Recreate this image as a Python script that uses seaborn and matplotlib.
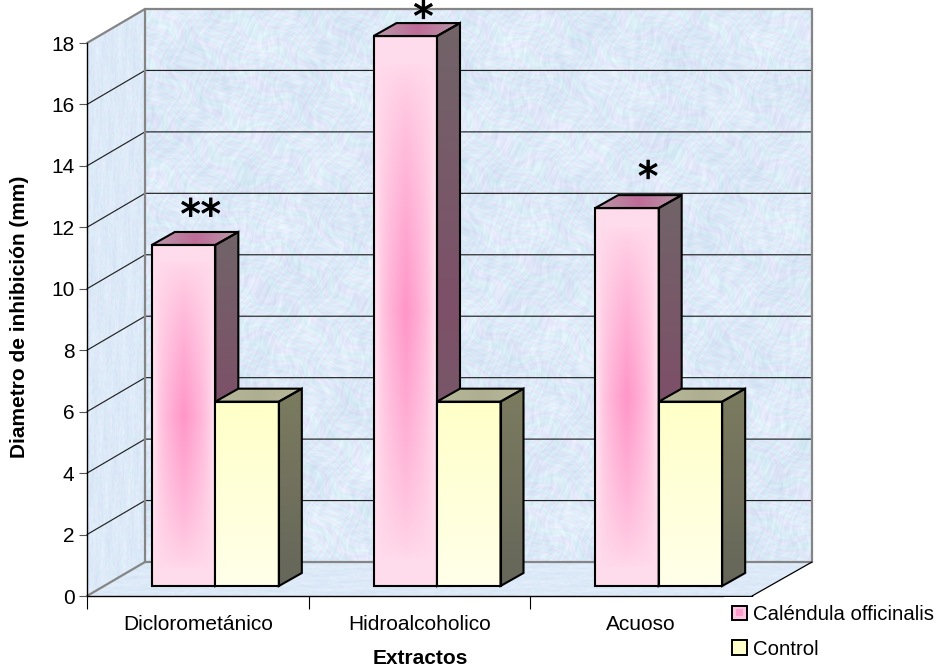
import numpy as np
import pandas as pd
import matplotlib
matplotlib.use("Agg")
import matplotlib.pyplot as plt
import matplotlib.patheffects as pe
import seaborn as sns
from matplotlib.patches import Polygon, Rectangle
from matplotlib.legend_handler import HandlerBase
from matplotlib.colors import to_rgb

# ---- data ----
categories = ["Diclorometánico", "Hidroalcoholico", "Acuoso"]
calendula = [11.1, 17.9, 12.3]
control = [6.0, 6.0, 6.0]
marks = ["**", "*", "*"]
series_names = ["Caléndula officinalis", "Control"]
y_ticks = [0, 2, 4, 6, 8, 10, 12, 14, 16, 18]

# ---- style ----
W, H = 940, 668
PX_X = 665 / 3.0      # pixels per category
PX_Y = 553 / 18.0     # pixels per y unit
WALL_DX, WALL_DY = 58 / PX_X, 34 / PX_Y
WALL_DX_R = 60 / PX_X
FLOOR_DX, FLOOR_DY = 17.5 / PX_X, 10 / PX_Y
BAR_DX, BAR_DY = 23 / PX_X, 13 / PX_Y
GROUP_W = 127 / PX_X

sns.set_theme(style="white")
plt.rcParams["font.family"] = ["Liberation Sans", "DejaVu Sans"]
plt.rcParams["text.color"] = "black"
FS = 15

fig = plt.figure(figsize=(W / 100, H / 100), dpi=100, facecolor="white")
ax = fig.add_axes([87 / W, 1 - 596 / H, 665 / W, 553 / H])
ax.set_facecolor("none")

df = pd.DataFrame({
    "Extractos": categories * 2,
    "Diametro": calendula + control,
    "Serie": [series_names[0]] * 3 + [series_names[1]] * 3,
})
sns.barplot(data=df, x="Extractos", y="Diametro", hue="Serie", hue_order=series_names,
            palette=["#ffb6d9", "#ffffd8"], width=GROUP_W, gap=0, legend=False,
            saturation=1, ax=ax)
x0, x1, y0, y1 = -0.5, 2.5, 0, 18


def lerp(a, b, t):
    a, b = np.array(to_rgb(a)), np.array(to_rgb(b))
    return a + (b - a) * t[..., None]


def paint(arr, pts, z):
    xs, ys = zip(*pts)
    im = ax.imshow(arr, extent=(min(xs), max(xs), min(ys), max(ys)), origin="upper",
                   aspect="auto", interpolation="bilinear", zorder=z)
    im.set_clip_path(Polygon(pts, closed=True, transform=ax.transData))
    im.set_clip_box(fig.bbox)
    return im


def outline(pts, z, color="black", lw=1.5):
    ax.add_patch(Polygon(pts, closed=True, fill=False, edgecolor=color, lw=lw, zorder=z,
                         clip_on=False, joinstyle="miter"))


# ---- textured walls (smooth, deterministic mottling) ----
yy, xx = np.mgrid[0:620, 0:760].astype(float)
warp_x = xx + 9 * np.sin(0.037 * yy + 0.4) + 6 * np.sin(0.083 * yy + 0.09 * xx)
warp_y = yy + 9 * np.sin(0.041 * xx + 1.1) + 6 * np.sin(0.071 * xx - 0.11 * yy)
tex = (np.sin(0.93 * warp_x + 0.37 * warp_y) + np.sin(0.31 * warp_x - 0.83 * warp_y + 1) +
       np.sin(1.31 * warp_x + 1.13 * warp_y) + np.sin(0.57 * warp_x + 0.19 * warp_y + 2) +
       np.sin(0.23 * warp_x + 0.47 * warp_y + 3) + np.sin(1.07 * warp_x - 1.39 * warp_y)) / 6
low = (np.sin(0.045 * warp_x + 0.03 * warp_y) + np.sin(0.021 * warp_x - 0.06 * warp_y + 1) +
       np.sin(0.11 * warp_x + 0.08 * warp_y + 2) + np.sin(0.13 * warp_x - 0.1 * warp_y)) / 4
mix = np.clip(0.58 + 0.42 * tex + 0.2 * low, 0, 1)
wall_img = lerp("#c6d9ee", "#eef6ff", mix)
tint = np.sin(0.29 * warp_x - 0.41 * warp_y) * 0.015
wall_img = np.clip(wall_img + tint[..., None] * np.array([1, -1, 0.3]), 0, 1)

back = [(x0 + WALL_DX, y0 + WALL_DY), (x1 + WALL_DX_R, y0 + WALL_DY),
        (x1 + WALL_DX_R, y1 + WALL_DY), (x0 + WALL_DX, y1 + WALL_DY)]
side = [(x0, y0), (x0 + WALL_DX, y0 + WALL_DY), (x0 + WALL_DX, y1 + WALL_DY), (x0, y1)]
floor = [(x0, y0), (x0 + WALL_DX, y0 + WALL_DY), (x1 + WALL_DX_R, y0 + WALL_DY), (x1, y0)]
for pts in (back, side, floor):
    paint(wall_img, pts, 0.5)

GRAY = "#858585"
for t in y_ticks[1:-1]:
    ax.plot([x0, x0 + WALL_DX, x1 + WALL_DX_R], [t, t + WALL_DY, t + WALL_DY], color="#222222",
            lw=0.85, zorder=0.8, clip_on=False, solid_joinstyle="miter")
outline(back, 0.9, GRAY, 1.6)
ax.plot([x0, x0 + WALL_DX], [y1, y1 + WALL_DY], color=GRAY, lw=1.6, zorder=0.9, clip_on=False)
ax.plot([x0, x0 + WALL_DX], [y0, y0 + WALL_DY], color=GRAY, lw=1.6, zorder=0.9, clip_on=False)
ax.plot([x1, x1 + WALL_DX_R], [y0, y0 + WALL_DY], color="black", lw=0.9, zorder=0.9, clip_on=False)

# ---- bars: seaborn's rectangles, moved onto the floor, then given 3-D faces ----
v, u = np.mgrid[-1:1:160j, -1:1:60j]
pink_t = np.clip(1 - np.abs(u) * 1.12, 0, 1) ** 0.65 * np.clip(1 - np.abs(v) * 1.1, 0, 1) ** 0.7
pink_front = lerp("#ffdcec", "#ff96c8", pink_t)
pink_side = lerp("#716468", "#7d5068", 1 - np.abs(v))
pink_top = lerp("#b89aa8", "#bf6c98", 1 - np.abs(u))
yel_front = lerp("#ffffc8", "#ffffea", (v + 1) / 2)
yel_side = lerp("#7c7c60", "#66665a", (v + 1) / 2)
yel_top = lerp("#b8b89a", "#aeae90", 1 - np.abs(u))
faces = [(pink_front, pink_side, pink_top), (yel_front, yel_side, yel_top)]

for s, cont in enumerate(ax.containers):
    front_img, side_img, top_img = faces[s]
    for bar in cont:
        bar.set_x(bar.get_x() + FLOOR_DX)
        bar.set_y(bar.get_y() + FLOOR_DY)
        bx, by, bw, bh = bar.get_x(), bar.get_y(), bar.get_width(), bar.get_height()
        z = 2 + s
        top_pts = [(bx, by + bh), (bx + bw, by + bh),
                   (bx + bw + BAR_DX, by + bh + BAR_DY), (bx + BAR_DX, by + bh + BAR_DY)]
        side_pts = [(bx + bw, by), (bx + bw + BAR_DX, by + BAR_DY),
                    (bx + bw + BAR_DX, by + bh + BAR_DY), (bx + bw, by + bh)]
        paint(top_img, top_pts, z)
        paint(side_img, side_pts, z)
        paint(front_img, bar.get_corners(), z + 0.1)
        outline(top_pts, z + 0.2)
        outline(side_pts, z + 0.2)
        bar.set_facecolor("none")
        bar.set_edgecolor("black")
        bar.set_linewidth(1.5)
        bar.set_zorder(z + 0.3)
        bar.set_clip_on(False)

# ---- significance asterisks ----
star_offsets = [(3, 15), (4, 4), (7, 16)]
for i, (m, val, off) in enumerate(zip(marks, calendula, star_offsets)):
    ax.annotate(m, xy=(i, val + FLOOR_DY + BAR_DY), xytext=off, textcoords="offset pixels",
                ha="center", va="center", fontsize=29, family="DejaVu Sans",
                color="black", annotation_clip=False, zorder=1.5,
                path_effects=[pe.withStroke(linewidth=0.8, foreground="black")])

# ---- axes ----
ax.set_xlim(x0, x1)
ax.set_ylim(y0, y1)
ax.set_yticks(y_ticks)
ax.set_xticks([0, 1, 2])
ax.set_xticklabels(categories)
ax.set_xticks([-0.5, 0.5, 1.5, 2.5], minor=True)
ax.tick_params(axis="x", which="major", length=0, pad=14, labelsize=FS, labelcolor="black")
ax.tick_params(axis="x", which="minor", bottom=True, length=9, width=0.8, color="black")
ax.tick_params(axis="y", left=True, length=6, width=0.8, color="#555555", pad=3, labelsize=FS,
               labelcolor="black")
for name in ("top", "right"):
    ax.spines[name].set_visible(False)
for name in ("left", "bottom"):
    ax.spines[name].set_visible(True)
    ax.spines[name].set_color("black")
    ax.spines[name].set_linewidth(1.0)
    ax.spines[name].set_zorder(1)
ax.set_xlabel("")
ax.set_ylabel("")
fig.text(420 / W, 1 - 658 / H, "Extractos", ha="center", va="center", fontsize=FS, fontweight="bold")
fig.text(20 / W, 1 - 317 / H, "Diametro de inhibición (mm)", ha="center", va="center",
         rotation=90, fontsize=FS, fontweight="bold")


# ---- legend ----
class SwatchHandler(HandlerBase):
    def create_artists(self, legend, orig, xd, yd, w, h, fontsize, trans):
        arts = [Rectangle((-xd, -yd), w, h, facecolor=orig.get_facecolor(),
                          edgecolor="black", lw=1.4, transform=trans)]
        if orig.get_label() == "pink":
            arts.append(Rectangle((-xd + w * 0.25, -yd + h * 0.25), w * 0.5, h * 0.5,
                                  facecolor="#ff9ccc", edgecolor="none", transform=trans))
        return arts


h1 = Rectangle((0, 0), 1, 1, facecolor="#ffc4e0", label="pink")
h2 = Rectangle((0, 0), 1, 1, facecolor="#ffffcc", label="yellow")
fig.legend([h1, h2], series_names, handler_map={Rectangle: SwatchHandler()},
           loc="upper left", bbox_to_anchor=(724 / W, 1 - 597 / H), bbox_transform=fig.transFigure,
           frameon=True, facecolor="white", edgecolor="none", framealpha=1, fancybox=False,
           fontsize=14.7, borderpad=0.39, borderaxespad=0, handlelength=0.72,
           handleheight=0.72, handletextpad=0.3, labelspacing=0.77)

fig.savefig("out.png", dpi=100, facecolor="white")
